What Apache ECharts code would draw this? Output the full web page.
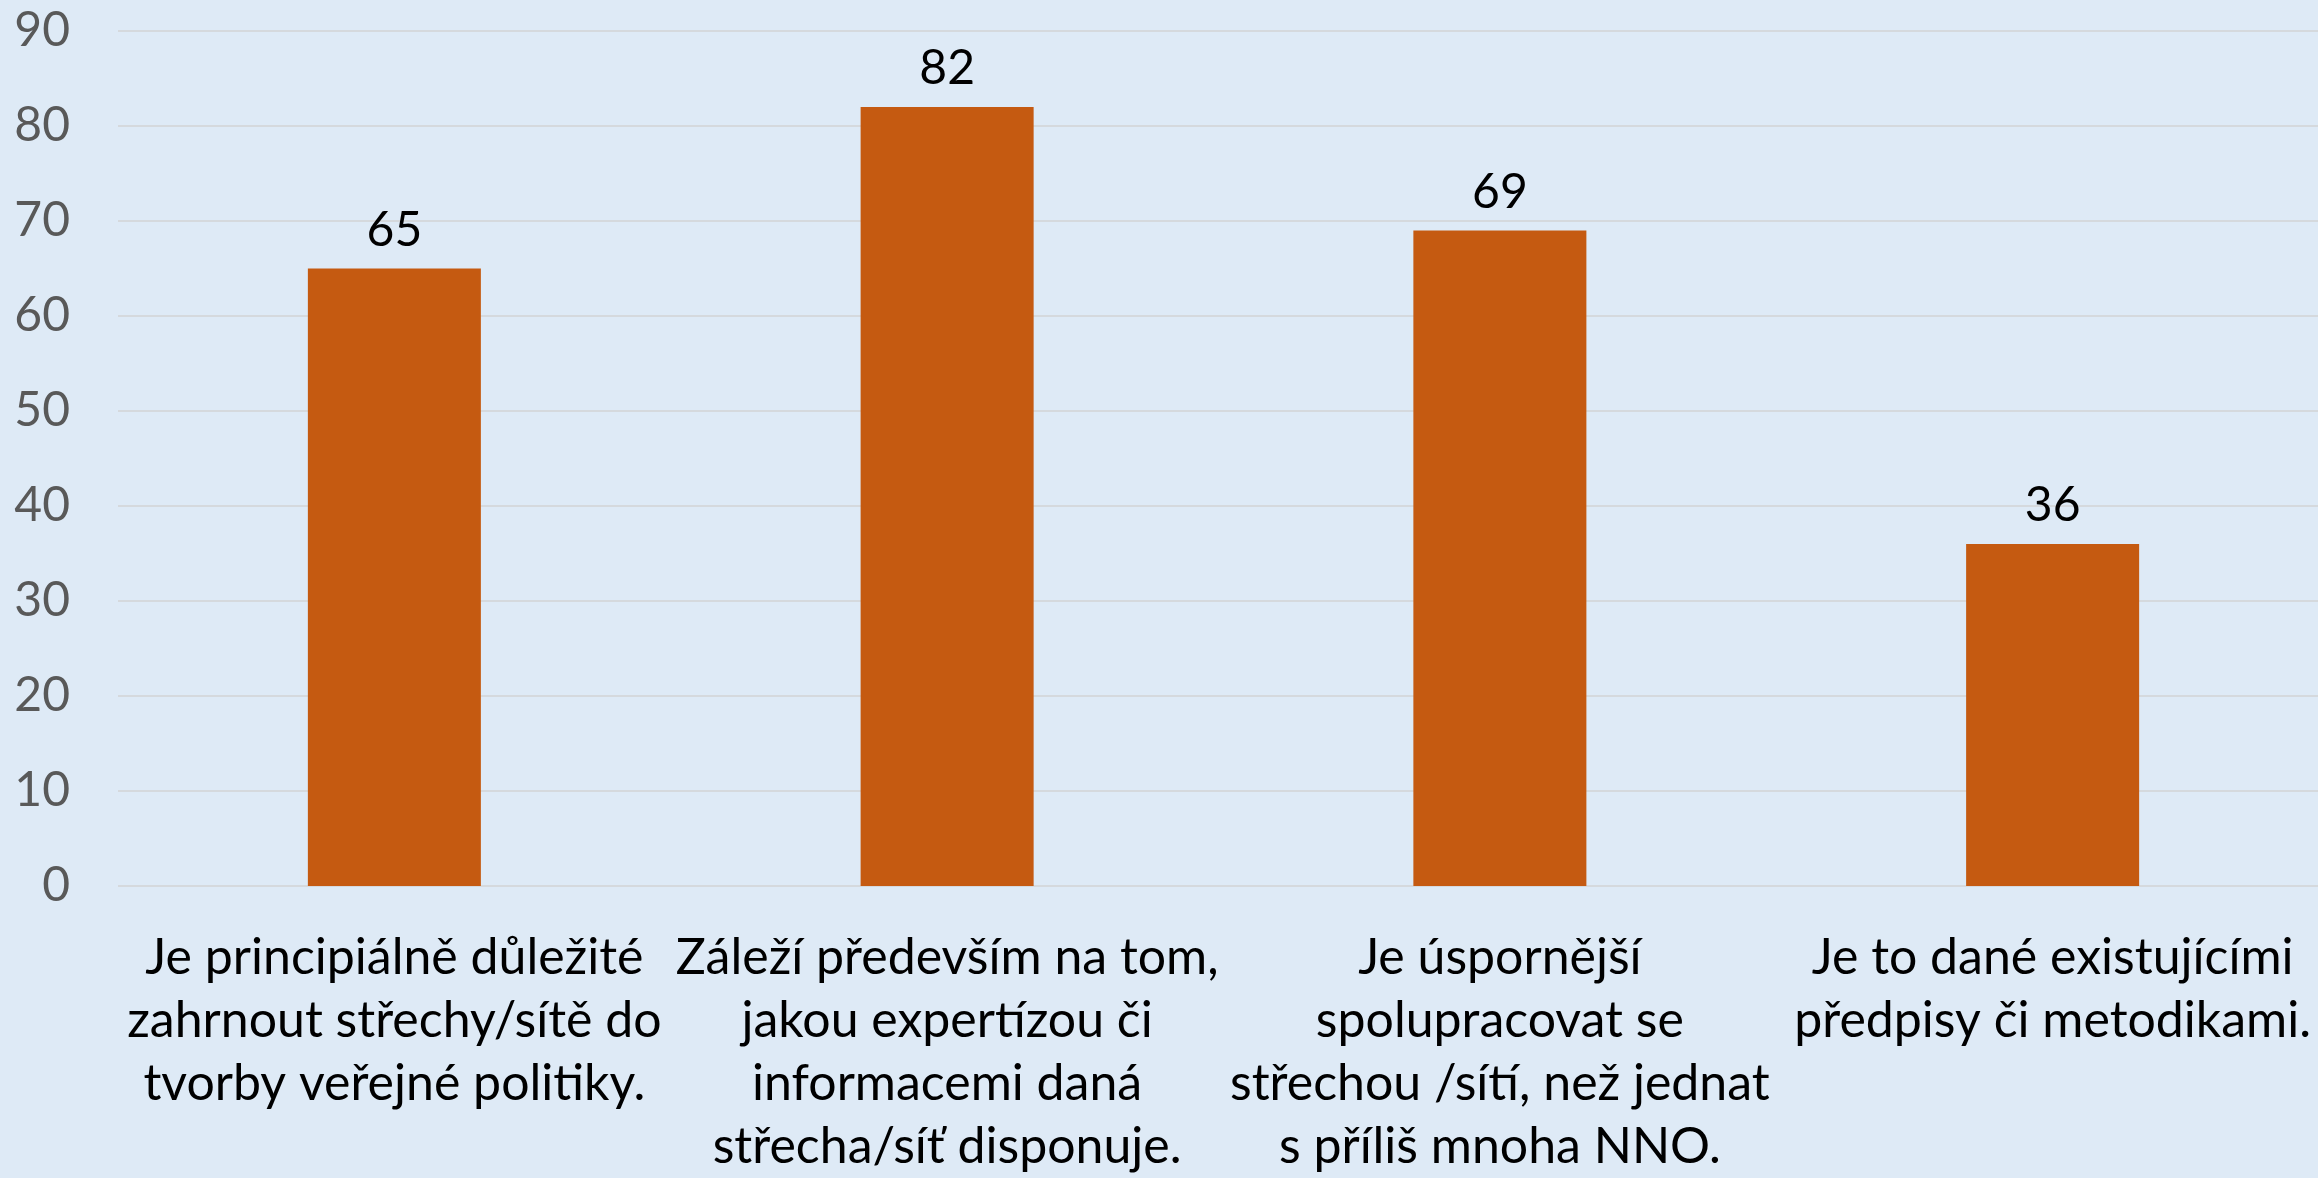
<!DOCTYPE html>
<html>
<head>
<meta charset="utf-8">
<script src="https://cdn.jsdelivr.net/npm/echarts@6/dist/echarts.min.js"></script>
<style>
  html, body { margin: 0; padding: 0; background: #DEEAF6; overflow: hidden; }
  /* plot area runs a little past the right edge, as in the source image */
  #chart { width: 2329px; height: 1178px; }
</style>
</head>
<body>
<div id="chart"></div>
<script>
const categories = [
  'Je principiálně důležité\nzahrnout střechy/sítě do\ntvorby veřejné politiky.',
  'Záleží především na tom,\njakou expertízou či\ninformacemi daná\nstřecha/síť disponuje.',
  'Je úspornější\nspolupracovat se\nstřechou /sítí, než jednat\ns příliš mnoha NNO.',
  'Je to dané existujícími\npředpisy či metodikami.'
]
const values = [65, 82, 69, 36]
const yTicks = { min: 0, max: 90, interval: 10 }

const chart = echarts.init(document.getElementById('chart'))

chart.setOption({
  backgroundColor: '#DEEAF6',
  animation: false,
  grid: { left: 118, right: 0, top: 31, bottom: 289, containLabel: false },
  xAxis: {
    type: 'category',
    data: categories,
    axisLine: { show: false },
    axisTick: { show: false },
    axisLabel: {
      interval: 0,
      margin: 40,
      color: '#000',
      fontFamily: 'Lato',
      fontSize: 50,
      lineHeight: 63
    }
  },
  yAxis: {
    type: 'value',
    min: yTicks.min,
    max: yTicks.max,
    interval: yTicks.interval,
    axisLine: { show: false },
    axisTick: { show: false },
    axisLabel: {
      margin: 48,
      color: '#595959',
      fontFamily: 'Lato',
      fontSize: 48
    },
    splitLine: { lineStyle: { color: '#D5D9DD', width: 2 } }
  },
  series: [{
    type: 'bar',
    data: values,
    barWidth: '31.3%',
    itemStyle: { color: '#C55A11' },
    label: {
      show: true,
      position: 'top',
      distance: 14,
      color: '#000',
      fontFamily: 'Lato',
      fontSize: 48
    }
  }]
})
</script>
</body>
</html>
